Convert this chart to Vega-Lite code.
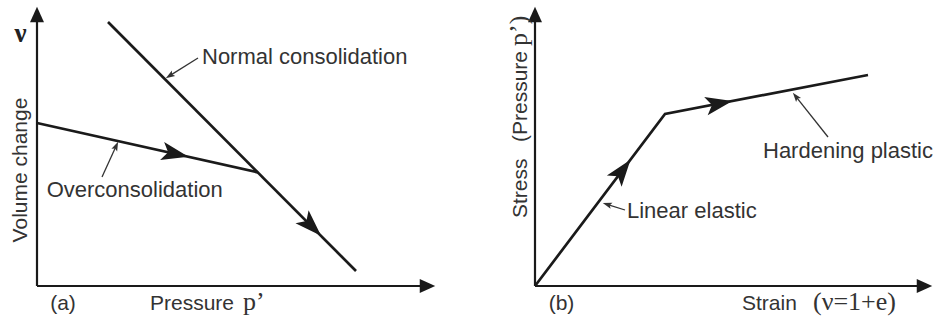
{
  "$schema": "https://vega.github.io/schema/vega-lite/v6.json",
  "padding": 0,
  "spacing": 0,
  "bounds": "flush",
  "background": "white",
  "config": {
    "view": {"stroke": null},
    "text": {"font": "Liberation Sans", "fontSize": 21, "color": "#333333", "baseline": "alphabetic", "align": "left"}
  },
  "datasets": {
    "segments": [
      {"panel": "a", "kind": "axis", "x": 0, "y": 0, "x2": 0, "y2": 6.79},
      {"panel": "a", "kind": "axis", "x": 0, "y": 0, "x2": 9.76, "y2": 0},
      {"panel": "a", "kind": "leader", "x": 4.025, "y": 5.7, "x2": 3.331, "y2": 5.266},
      {"panel": "a", "kind": "leader", "x": 1.625, "y": 2.725, "x2": 1.973, "y2": 3.486},
      {"panel": "b", "kind": "axis", "x": 0, "y": 0, "x2": 0, "y2": 6.79},
      {"panel": "b", "kind": "axis", "x": 0, "y": 0, "x2": 9.74, "y2": 0},
      {"panel": "b", "kind": "leader", "x": 7.325, "y": 3.725, "x2": 6.528, "y2": 4.727},
      {"panel": "b", "kind": "leader", "x": 2.25, "y": 1.9, "x2": 1.819, "y2": 2.037}
    ],
    "curves": [
      {"panel": "a", "name": "Normal consolidation", "order": 1, "x": 1.775, "y": 6.6},
      {"panel": "a", "name": "Normal consolidation", "order": 2, "x": 7.975, "y": 0.375},
      {"panel": "a", "name": "Overconsolidation", "order": 1, "x": 0, "y": 4.075},
      {"panel": "a", "name": "Overconsolidation", "order": 2, "x": 5.525, "y": 2.84},
      {"panel": "b", "name": "Stress-strain", "order": 1, "x": 0, "y": 0},
      {"panel": "b", "name": "Stress-strain", "order": 2, "x": 3.25, "y": 4.3},
      {"panel": "b", "name": "Stress-strain", "order": 3, "x": 8.325, "y": 5.275}
    ],
    "arrows": [
      {"name": "v-axis", "x": 0, "y": 6.7875},
      {"name": "p-axis", "x": 9.7625, "y": 0},
      {"name": "overconsolidation", "x": 3.41, "y": 3.313},
      {"name": "normal consolidation", "x": 6.83, "y": 1.527},
      {"name": "normal leader", "x": 3.331, "y": 5.266},
      {"name": "over leader", "x": 1.973, "y": 3.486},
      {"name": "stress-axis", "x": 0, "y": 6.7875},
      {"name": "strain-axis", "x": 9.7375, "y": 0},
      {"name": "elastic", "x": 2.155, "y": 2.852},
      {"name": "hardening", "x": 4.557, "y": 4.551},
      {"name": "hardening leader", "x": 6.528, "y": 4.727},
      {"name": "elastic leader", "x": 1.819, "y": 2.037}
    ],
    "labels": [
      {"panel": "a", "role": "note", "text": "Normal consolidation", "x": 4.125, "y": 5.55},
      {"panel": "a", "role": "note", "text": "Overconsolidation", "x": 0.242, "y": 2.225},
      {"panel": "a", "role": "title", "text": "Pressure", "x": 2.825, "y": -0.6},
      {"panel": "a", "role": "tag", "text": "(a)", "x": 0.65, "y": -0.6},
      {"panel": "a", "role": "serif", "text": "p’", "x": 5.15, "y": -0.6},
      {"panel": "a", "role": "vtitle", "text": "Volume change", "x": -0.25, "y": 2.9},
      {"panel": "a", "role": "symbol", "text": "ν", "x": -0.4125, "y": 6.1},
      {"panel": "b", "role": "note", "text": "Hardening plastic", "x": 5.7, "y": 3.2},
      {"panel": "b", "role": "note", "text": "Linear elastic", "x": 2.3, "y": 1.7},
      {"panel": "b", "role": "title", "text": "Strain", "x": 5.175, "y": -0.6},
      {"panel": "b", "role": "tag", "text": "(b)", "x": 0.6625, "y": -0.6},
      {"panel": "b", "role": "serif", "text": "(ν=1+e)", "x": 6.95, "y": -0.6},
      {"panel": "b", "role": "vsans", "text": "Stress", "x": -0.2, "y": 1.7},
      {"panel": "b", "role": "vsans", "text": "(Pressure", "x": -0.2, "y": 3.6},
      {"panel": "b", "role": "vserif", "text": "p’)", "x": -0.2, "y": 6.0}
    ]
  },
  "hconcat": [
    {
      "width": 465,
      "height": 322,
      "encoding": {
        "x": {"field": "x", "type": "quantitative", "scale": {"domain": [-0.925, 10.7], "nice": false, "zero": false}, "axis": null},
        "y": {"field": "y", "type": "quantitative", "scale": {"domain": [-0.9, 7.15], "nice": false, "zero": false}, "axis": null}
      },
      "layer": [
        {"data": {"name": "segments"}, "transform": [{"filter": "datum.panel === 'a' && datum.kind === 'axis'"}],
         "mark": {"type": "rule", "color": "#1a1a1a", "strokeWidth": 2.2}, "encoding": {"x2": {"field": "x2"}, "y2": {"field": "y2"}}},
        {"data": {"name": "segments"}, "transform": [{"filter": "datum.panel === 'a' && datum.kind === 'leader'"}],
         "mark": {"type": "rule", "color": "#333333", "strokeWidth": 1.3}, "encoding": {"x2": {"field": "x2"}, "y2": {"field": "y2"}}},
        {"data": {"name": "curves"}, "transform": [{"filter": "datum.panel === 'a'"}],
         "mark": {"type": "line", "color": "#1a1a1a", "strokeWidth": 2.7, "strokeJoin": "miter"},
         "encoding": {"detail": {"field": "name"}, "order": {"field": "order"}}},
        {"data": {"name": "arrows"}, "transform": [{"filter": "datum.name === 'v-axis'"}],
         "mark": {"type": "point", "shape": "M0,-1L0.9,1L-0.9,1Z", "size": 240, "angle": 0, "filled": true, "color": "#1a1a1a", "opacity": 1, "strokeWidth": 0}},
        {"data": {"name": "arrows"}, "transform": [{"filter": "datum.name === 'p-axis'"}],
         "mark": {"type": "point", "shape": "M0,-1L0.9,1L-0.9,1Z", "size": 240, "angle": 90, "filled": true, "color": "#1a1a1a", "opacity": 1, "strokeWidth": 0}},
        {"data": {"name": "arrows"}, "transform": [{"filter": "datum.name === 'overconsolidation'"}],
         "mark": {"type": "point", "shape": "M0,-1L0.6,0.75L0,0.35L-0.6,0.75Z", "size": 950, "angle": 102.6, "filled": true, "color": "#1a1a1a", "opacity": 1, "strokeWidth": 0}},
        {"data": {"name": "arrows"}, "transform": [{"filter": "datum.name === 'normal consolidation'"}],
         "mark": {"type": "point", "shape": "M0,-1L0.6,0.75L0,0.35L-0.6,0.75Z", "size": 950, "angle": 135.1, "filled": true, "color": "#1a1a1a", "opacity": 1, "strokeWidth": 0}},
        {"data": {"name": "arrows"}, "transform": [{"filter": "datum.name === 'normal leader'"}],
         "mark": {"type": "point", "shape": "M0,-1L0.6,0.75L0,0.4L-0.6,0.75Z", "size": 110, "angle": 238, "filled": true, "color": "#333333", "opacity": 1, "strokeWidth": 0}},
        {"data": {"name": "arrows"}, "transform": [{"filter": "datum.name === 'over leader'"}],
         "mark": {"type": "point", "shape": "M0,-1L0.6,0.75L0,0.4L-0.6,0.75Z", "size": 110, "angle": 24.6, "filled": true, "color": "#333333", "opacity": 1, "strokeWidth": 0}},
        {"data": {"name": "labels"}, "transform": [{"filter": "datum.panel === 'a' && datum.role === 'note'"}],
         "mark": {"type": "text", "fontSize": 22}, "encoding": {"text": {"field": "text"}}},
        {"data": {"name": "labels"}, "transform": [{"filter": "datum.panel === 'a' && datum.role === 'title'"}],
         "mark": {"type": "text"}, "encoding": {"text": {"field": "text"}}},
        {"data": {"name": "labels"}, "transform": [{"filter": "datum.panel === 'a' && datum.role === 'tag'"}],
         "mark": {"type": "text", "align": "center"}, "encoding": {"text": {"field": "text"}}},
        {"data": {"name": "labels"}, "transform": [{"filter": "datum.panel === 'a' && datum.role === 'serif'"}],
         "mark": {"type": "text", "font": "Liberation Serif", "fontSize": 26}, "encoding": {"text": {"field": "text"}}},
        {"data": {"name": "labels"}, "transform": [{"filter": "datum.panel === 'a' && datum.role === 'vtitle'"}],
         "mark": {"type": "text", "angle": 270, "align": "center"}, "encoding": {"text": {"field": "text"}}},
        {"data": {"name": "labels"}, "transform": [{"filter": "datum.panel === 'a' && datum.role === 'symbol'"}],
         "mark": {"type": "text", "align": "center", "font": "Liberation Serif", "fontSize": 27, "fontWeight": "bold", "color": "#222222"}, "encoding": {"text": {"field": "text"}}}
      ]
    },
    {
      "width": 470,
      "height": 322,
      "encoding": {
        "x": {"field": "x", "type": "quantitative", "scale": {"domain": [-1.75, 10], "nice": false, "zero": false}, "axis": null},
        "y": {"field": "y", "type": "quantitative", "scale": {"domain": [-0.9, 7.15], "nice": false, "zero": false}, "axis": null}
      },
      "layer": [
        {"data": {"name": "segments"}, "transform": [{"filter": "datum.panel === 'b' && datum.kind === 'axis'"}],
         "mark": {"type": "rule", "color": "#1a1a1a", "strokeWidth": 2.2}, "encoding": {"x2": {"field": "x2"}, "y2": {"field": "y2"}}},
        {"data": {"name": "segments"}, "transform": [{"filter": "datum.panel === 'b' && datum.kind === 'leader'"}],
         "mark": {"type": "rule", "color": "#333333", "strokeWidth": 1.3}, "encoding": {"x2": {"field": "x2"}, "y2": {"field": "y2"}}},
        {"data": {"name": "curves"}, "transform": [{"filter": "datum.panel === 'b'"}],
         "mark": {"type": "line", "color": "#1a1a1a", "strokeWidth": 2.7, "strokeJoin": "miter"},
         "encoding": {"detail": {"field": "name"}, "order": {"field": "order"}}},
        {"data": {"name": "arrows"}, "transform": [{"filter": "datum.name === 'stress-axis'"}],
         "mark": {"type": "point", "shape": "M0,-1L0.9,1L-0.9,1Z", "size": 240, "angle": 0, "filled": true, "color": "#1a1a1a", "opacity": 1, "strokeWidth": 0}},
        {"data": {"name": "arrows"}, "transform": [{"filter": "datum.name === 'strain-axis'"}],
         "mark": {"type": "point", "shape": "M0,-1L0.9,1L-0.9,1Z", "size": 240, "angle": 90, "filled": true, "color": "#1a1a1a", "opacity": 1, "strokeWidth": 0}},
        {"data": {"name": "arrows"}, "transform": [{"filter": "datum.name === 'elastic'"}],
         "mark": {"type": "point", "shape": "M0,-1L0.6,0.75L0,0.35L-0.6,0.75Z", "size": 950, "angle": 37.1, "filled": true, "color": "#1a1a1a", "opacity": 1, "strokeWidth": 0}},
        {"data": {"name": "arrows"}, "transform": [{"filter": "datum.name === 'hardening'"}],
         "mark": {"type": "point", "shape": "M0,-1L0.6,0.75L0,0.35L-0.6,0.75Z", "size": 950, "angle": 79.1, "filled": true, "color": "#1a1a1a", "opacity": 1, "strokeWidth": 0}},
        {"data": {"name": "arrows"}, "transform": [{"filter": "datum.name === 'hardening leader'"}],
         "mark": {"type": "point", "shape": "M0,-1L0.6,0.75L0,0.4L-0.6,0.75Z", "size": 110, "angle": 321.5, "filled": true, "color": "#333333", "opacity": 1, "strokeWidth": 0}},
        {"data": {"name": "arrows"}, "transform": [{"filter": "datum.name === 'elastic leader'"}],
         "mark": {"type": "point", "shape": "M0,-1L0.6,0.75L0,0.4L-0.6,0.75Z", "size": 110, "angle": 287.6, "filled": true, "color": "#333333", "opacity": 1, "strokeWidth": 0}},
        {"data": {"name": "labels"}, "transform": [{"filter": "datum.panel === 'b' && datum.role === 'note'"}],
         "mark": {"type": "text", "fontSize": 22}, "encoding": {"text": {"field": "text"}}},
        {"data": {"name": "labels"}, "transform": [{"filter": "datum.panel === 'b' && datum.role === 'title'"}],
         "mark": {"type": "text"}, "encoding": {"text": {"field": "text"}}},
        {"data": {"name": "labels"}, "transform": [{"filter": "datum.panel === 'b' && datum.role === 'tag'"}],
         "mark": {"type": "text", "align": "center"}, "encoding": {"text": {"field": "text"}}},
        {"data": {"name": "labels"}, "transform": [{"filter": "datum.panel === 'b' && datum.role === 'serif'"}],
         "mark": {"type": "text", "font": "Liberation Serif", "fontSize": 26}, "encoding": {"text": {"field": "text"}}},
        {"data": {"name": "labels"}, "transform": [{"filter": "datum.panel === 'b' && datum.role === 'vsans'"}],
         "mark": {"type": "text", "angle": 270}, "encoding": {"text": {"field": "text"}}},
        {"data": {"name": "labels"}, "transform": [{"filter": "datum.panel === 'b' && datum.role === 'vserif'"}],
         "mark": {"type": "text", "angle": 270, "font": "Liberation Serif", "fontSize": 26}, "encoding": {"text": {"field": "text"}}}
      ]
    }
  ]
}
